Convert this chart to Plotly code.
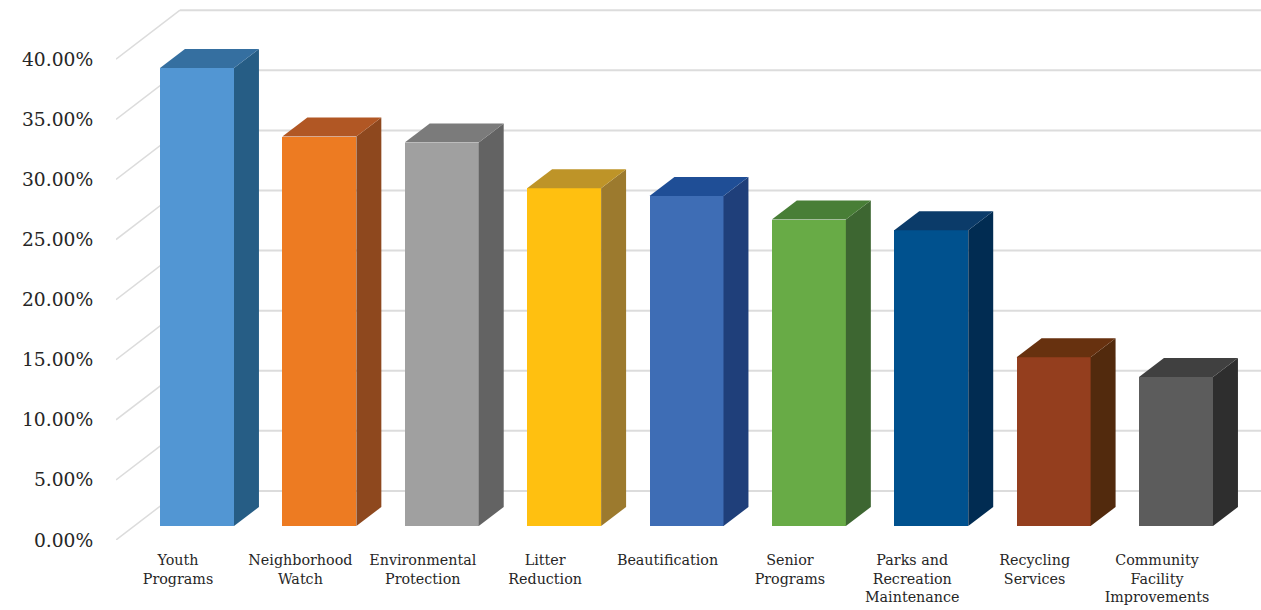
import plotly.graph_objects as go

categories = ["Youth<br>Programs", "Neighborhood<br>Watch", "Environmental<br>Protection",
              "Litter<br>Reduction", "Beautification", "Senior<br>Programs",
              "Parks and<br>Recreation<br>Maintenance", "Recycling<br>Services",
              "Community<br>Facility<br>Improvements"]
values = [38.1, 32.4, 31.9, 28.1, 27.45, 25.5, 24.6, 14.05, 12.4]
y_ticks = [0, 5, 10, 15, 20, 25, 30, 35, 40]

front_colors = ["#5296D3", "#ED7B22", "#A0A0A0", "#FFC010", "#3E6DB5", "#68AB46", "#00518E", "#943E1E", "#5C5C5C"]
side_colors = ["#265D85", "#8E481E", "#636363", "#9C7A2E", "#1F3F7A", "#3D6631", "#012C52", "#522A0D", "#2E2E2E"]
top_colors = ["#356FA0", "#B15724", "#7B7B7B", "#BE9428", "#1F4E96", "#487E36", "#0B3B69", "#67310F", "#404040"]

X_MIN, X_MAX = -0.5066, 8.8499
Y_MAX = 44.93
WALL_DX, WALL_DY = 0.523, 4.08     # floor depth, in axis units
BAR_SHIFT, BAR_WIDTH = 0.1553, 0.6047
BAR_BASE = 1.165
BAR_DX, BAR_DY = 0.204, 1.58       # bar depth, in axis units
GRID = "#DCDCDC"

idx = list(range(len(values)))
fig = go.Figure()

fig.add_trace(go.Bar(
    x=[i + BAR_SHIFT for i in idx], y=values, base=BAR_BASE, width=BAR_WIDTH,
    marker=dict(color=front_colors, line=dict(width=0)), showlegend=False,
    hovertemplate="%{y:.2f}%<extra></extra>"))

for i, v, sc, tc in zip(idx, values, side_colors, top_colors):
    x0 = i + BAR_SHIFT - BAR_WIDTH / 2
    x1 = i + BAR_SHIFT + BAR_WIDTH / 2
    top = BAR_BASE + v
    fig.add_trace(go.Scatter(
        x=[x1, x1 + BAR_DX, x1 + BAR_DX, x1, x1],
        y=[BAR_BASE, BAR_BASE + BAR_DY, top + BAR_DY, top, BAR_BASE],
        mode="lines", fill="toself", fillcolor=sc, line=dict(width=0),
        showlegend=False, hoverinfo="skip"))
    fig.add_trace(go.Scatter(
        x=[x0, x1, x1 + BAR_DX, x0 + BAR_DX, x0],
        y=[top, top, top + BAR_DY, top + BAR_DY, top],
        mode="lines", fill="toself", fillcolor=tc, line=dict(width=0),
        showlegend=False, hoverinfo="skip"))

shapes = []
for t in y_ticks:
    shapes.append(dict(type="line", layer="below", xref="x", yref="y",
                       x0=X_MIN, y0=t, x1=X_MIN + WALL_DX, y1=t + WALL_DY,
                       line=dict(color=GRID, width=1.5)))
    shapes.append(dict(type="line", layer="below", xref="x", yref="y",
                       x0=X_MIN + WALL_DX, y0=t + WALL_DY, x1=X_MAX, y1=t + WALL_DY,
                       line=dict(color=GRID, width=2)))

fig.update_layout(
    width=1261, height=610, autosize=False,
    margin=dict(l=116, r=0, t=0, b=70),
    paper_bgcolor="white", plot_bgcolor="white",
    showlegend=False, shapes=shapes, bargap=0,
    xaxis=dict(range=[X_MIN, X_MAX], tickmode="array", tickvals=idx, ticktext=categories,
               showgrid=False, zeroline=False, showline=False, tickangle=0,
               ticks="outside", ticklen=7, tickcolor="rgba(0,0,0,0)",
               tickfont=dict(family="DejaVu Serif", size=14.3, color="#262626")),
    yaxis=dict(range=[0, Y_MAX], tickmode="array", tickvals=y_ticks,
               ticktext=[f"{t:.2f}%" for t in y_ticks],
               showgrid=False, zeroline=False, showline=False,
               ticks="outside", ticklen=18, tickcolor="rgba(0,0,0,0)",
               tickfont=dict(family="DejaVu Serif", size=18.7, color="#262626")),
)

fig.write_html("out.html", config={"displayModeBar": False},
               post_script="document.body.style.margin='0';")
